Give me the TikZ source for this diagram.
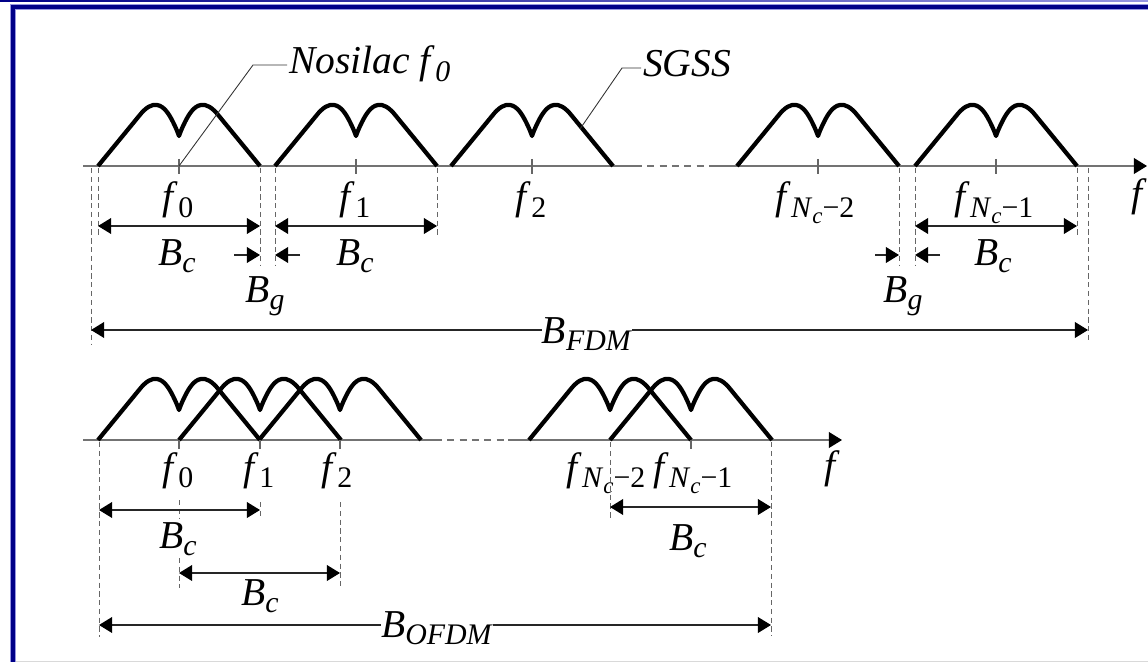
\documentclass[tikz,border=0pt]{standalone}
\usepackage{fontspec}
\setmainfont{Liberation Serif}
\usetikzlibrary{arrows.meta}
\definecolor{framenavy}{RGB}{0,0,136}
\definecolor{framelav}{RGB}{150,150,225}

% subscripts in text mode
\newcommand{\lo}[1]{\raisebox{-4.5pt}{\fontsize{17}{19}\selectfont #1}}
\newcommand{\Nc}{\textit{N}\raisebox{-3pt}{\fontsize{13}{14}\selectfont\textit{c}}}
\newcommand{\fl}[1]{\textit{f}\lo{#1}}

\begin{document}
\begin{tikzpicture}[x=0.02cm, y=-0.02cm,
    every node/.style={font=\fontsize{22.5}{26}\selectfont, inner sep=1pt},
    axisline/.style={draw=black!55, line width=0.9pt},
    gapline/.style={axisline, dash pattern=on 4pt off 3pt},
    guide/.style={draw=black!60, line width=0.55pt, dash pattern=on 3pt off 2pt},
    tick/.style={draw=black!60, line width=0.6pt},
    tip/.style={-{Triangle[length=7.5pt, width=9pt, black]}},
    dim/.style={draw=black!85, line width=0.8pt,
                {Triangle[length=7.5pt, width=9pt, black]}-{Triangle[length=7.5pt, width=9pt, black]}},
    gapdim/.style={draw=black!85, line width=0.8pt, tip},
    leader/.style={draw=black!80, line width=0.5pt},
    hump/.pic={
      \draw[line width=2.4pt, line join=round]
        (-81,0) -- (-40,-50) .. controls (-33,-59) and (-27,-62) .. (-22,-61)
        .. controls (-15,-60) and (-10,-52) .. (-6,-44)
        .. controls (-3,-38) and (-1,-33) .. (0,-30)
        .. controls (1,-33) and (3,-38) .. (6,-44)
        .. controls (10,-52) and (15,-60) .. (22,-61)
        .. controls (27,-62) and (33,-59) .. (40,-50) -- (81,0);
    }
]
\useasboundingbox (0,0) rectangle (1148,662);

% window frame
\shade[left color=framenavy, right color=framelav] (0,0) rectangle (1148,2);
\fill[framelav] (10,4) rectangle (1148,10);
\fill[framelav] (10,4) rectangle (16,662);
\fill[framenavy] (11,5) rectangle (1148,9);
\fill[framenavy] (11,5) rectangle (15,662);
\draw[black!15, line width=0.5pt] (16,661) -- (1148,661);

%%% FDM
\draw[axisline] (83,166) -- (635,166);
\draw[gapline] (635,166) -- (710,166);
\draw[axisline, tip] (710,166) -- (1147,166);

\foreach \c in {179,356,532,818,996}
  \pic at (\c,166) {hump};
\foreach \c in {179,356,532,818,996}
  \draw[tick] (\c,159) -- (\c,174);

\foreach \x/\y in {91/345,98/236,260/266,275/266,437/236,899/266,915/266,1077/236,1088/343}
  \draw[guide] (\x,168) -- (\x,\y);

\node[anchor=base] (fz) at (178,210) {\fl{0}};
\node[anchor=base] (fo) at (355,210) {\fl{1}};
\node[anchor=base] (ft) at (531,210) {\fl{2}};
\node[anchor=base] (fm) at (815,210) {\textit{f}\lo{\Nc−2}};
\node[anchor=base] (fl) at (994,210) {\textit{f}\lo{\Nc−1}};
\node[anchor=base] (fax) at (1139,206) {\textit{f}};

\draw[dim] (98,226) -- (260,226);
\draw[dim] (275,226) -- (437,226);
\draw[dim] (915,226) -- (1077,226);
\node[anchor=base] (bca) at (177,265) {\textit{B}\lo{\textit{c}}};
\node[anchor=base] (bcb) at (355,265) {\textit{B}\lo{\textit{c}}};
\node[anchor=base] (bcc) at (993,265) {\textit{B}\lo{\textit{c}}};

\draw[gapdim] (234,255) -- (260,255);
\draw[gapdim] (300,255) -- (275,255);
\draw[gapdim] (875,255) -- (899,255);
\draw[gapdim] (940,255) -- (915,255);
\node[anchor=base] (bga) at (265,302) {\textit{B}\lo{\textit{g}}};
\node[anchor=base] (bgb) at (903,302) {\textit{B}\lo{\textit{g}}};

\draw[dim] (91,330) -- (1088,330);
\node[anchor=base, fill=white, inner sep=0pt] (bfdm) at (587,343)
  {\textit{B}\lo{\textit{FDM}}};

% call-outs
\node[anchor=west] (nos) at (287,64) {\textit{Nosilac f}\lo{\textit{0}}};
\coordinate (nosk) at (253,65);
\draw[leader] (179,166) -- (nosk) -- (nosk -| nos.west);
\node[anchor=west] (sgss) at (641,64) {\textit{SGSS}};
\coordinate (sgk) at (622,68);
\draw[leader] (580,129) -- (sgk) -- (sgk -| sgss.west);

%%% OFDM
\draw[axisline] (83,440) -- (435,440);
\draw[gapline] (435,440) -- (508,440);
\draw[axisline, tip] (508,440) -- (842,440);

\foreach \c in {179,260,340,610,691}
  \pic at (\c,440) {hump};
\foreach \c in {179,260,340,691}
  \draw[tick] (\c,440) -- (\c,449);

\draw[guide] (99,442) -- (99,637);
\draw[guide] (179,500) -- (179,518);
\draw[guide] (179,558) -- (179,588);
\draw[guide] (260,502) -- (260,518);
\draw[guide] (340,502) -- (340,588);
\draw[guide] (610,442) -- (610,518);
\draw[guide] (771,442) -- (771,636);

\node[anchor=base] (gz) at (178,480) {\fl{0}};
\node[anchor=base] (go) at (259,480) {\fl{1}};
\node[anchor=base] (gt) at (337,480) {\fl{2}};
\node[anchor=base] (gm) at (606,480) {\textit{f}\lo{\Nc−2}};
\node[anchor=base] (gl) at (693,480) {\textit{f}\lo{\Nc−1}};
\node[anchor=base] (gax) at (832,478) {\textit{f}};

\draw[dim] (99,510) -- (260,510);
\draw[dim] (179,573) -- (340,573);
\draw[dim] (610,507) -- (771,507);
\node[anchor=base] (bcd) at (178,548) {\textit{B}\lo{\textit{c}}};
\node[anchor=base] (bce) at (260,605) {\textit{B}\lo{\textit{c}}};
\node[anchor=base] (bcf) at (688,550) {\textit{B}\lo{\textit{c}}};

\draw[dim] (99,625) -- (771,625);
\node[anchor=base, fill=white, inner sep=0pt] (bofdm) at (437,637)
  {\textit{B}\lo{\textit{OFDM}}};
\end{tikzpicture}
\end{document}
